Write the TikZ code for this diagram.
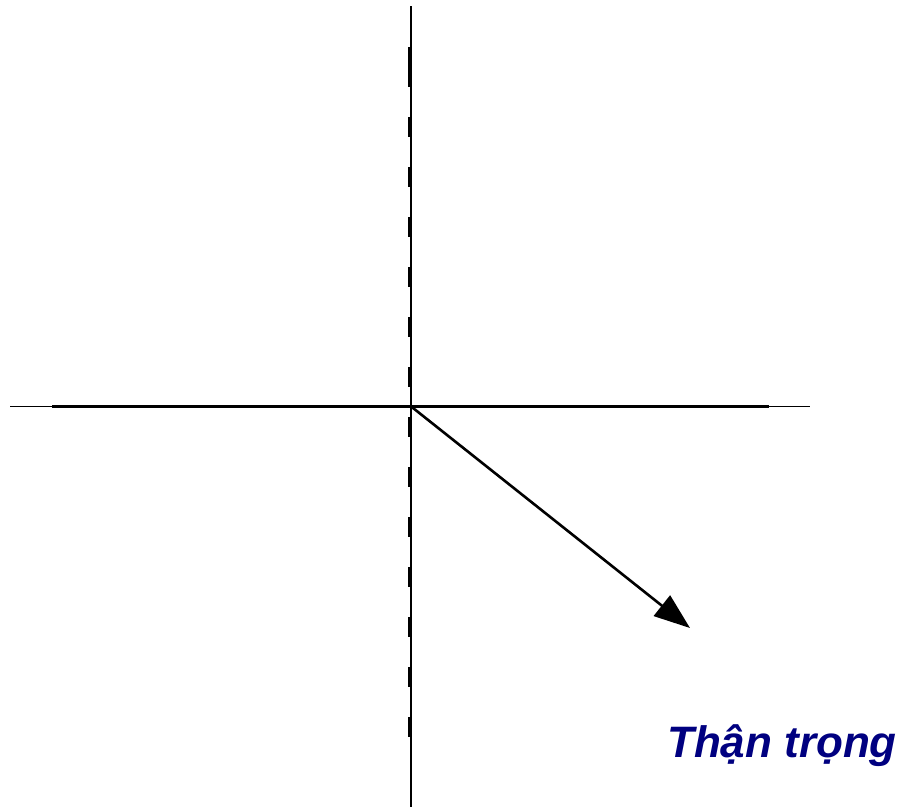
\documentclass[tikz,border=0pt]{standalone}
\usepackage{fontspec}
\setmainfont{Liberation Sans}
\usetikzlibrary{arrows.meta}
\definecolor{navy}{RGB}{0,0,128}
\tikzset{
  thinaxis/.style={line width=1pt},
  thickaxis/.style={line width=3pt},
  vaxis/.style={line width=2pt},
  vdash/.style={line width=2pt,dash pattern=on 20pt off 30pt},
  vec/.style={line width=2.6pt,-{Triangle[length=36pt,width=26pt]}},
  lbl/.style={font=\fontsize{44}{48}\selectfont\bfseries\itshape,text=navy,inner sep=0pt}
}
\begin{document}
\begin{tikzpicture}[x=1pt,y=-1pt]
\useasboundingbox (0,0) rectangle (901,809);
\coordinate (O) at (410.5,406);
\coordinate (L) at (10,406);
\coordinate (R) at (810,406);
\coordinate (Lt) at (52,406);
\coordinate (Rt) at (769,406);
\coordinate (T) at (410.5,6);
\coordinate (B) at (410.5,807);
\coordinate (Ta) at (408.5,47);
\coordinate (Td) at (408.5,67);
\coordinate (Bd) at (408.5,760);
\coordinate (E) at (690,628);
\draw[thinaxis] (L) -- (R);
\draw[thickaxis] (Lt) -- (Rt);
\draw[vaxis] (T) -- (B);
\draw[vaxis] (Ta) -- (Td);
\draw[vdash] (Td) -- (Bd);
\draw[vec] (O) -- (E);
\node[lbl] (t) at (782,746) {Thận trọng};
\end{tikzpicture}
\end{document}
